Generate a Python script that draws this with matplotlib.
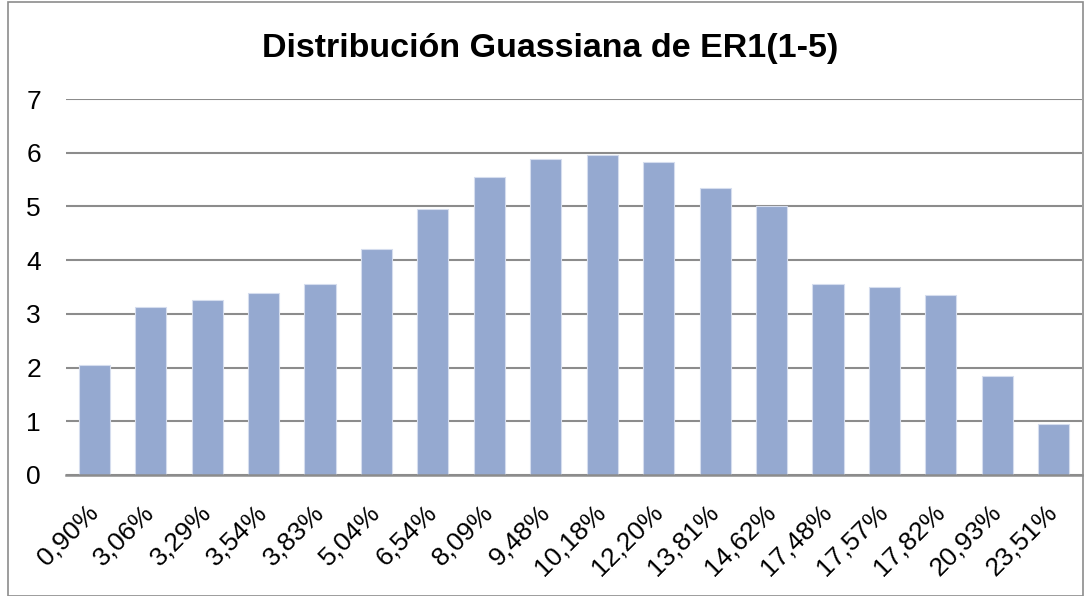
import matplotlib
matplotlib.use("Agg")
import matplotlib.pyplot as plt
from matplotlib.patches import Rectangle
import matplotlib.transforms as mtransforms

categories = ["0,90%", "3,06%", "3,29%", "3,54%", "3,83%", "5,04%", "6,54%", "8,09%", "9,48%",
              "10,18%", "12,20%", "13,81%", "14,62%", "17,48%", "17,57%", "17,82%", "20,93%", "23,51%"]
values = [2.05, 3.13, 3.25, 3.39, 3.55, 4.20, 4.95, 5.55, 5.88,
          5.96, 5.82, 5.35, 5.01, 3.55, 3.50, 3.36, 1.84, 0.95]
yticks = [0, 1, 2, 3, 4, 5, 6, 7]
title = "Distribución Guassiana de ER1(1-5)"

plt.rcParams['font.family'] = ['Liberation Sans', 'DejaVu Sans']

fig = plt.figure(figsize=(10.91, 5.96), dpi=100)
ax = fig.add_axes([66/1091, 1-475/596, (1082-66)/1091, (475-99)/596])

x = list(range(len(categories)))
ax.bar(x, values, width=0.55, color="#95A9D0", edgecolor="#D5DDEE", linewidth=0.8, zorder=3)
ax.set_xlim(-0.5, len(categories)-0.5)
ax.set_ylim(0, 7)
ax.set_yticks(yticks)
ax.set_yticklabels([str(t) for t in yticks], fontsize=19)
ax.set_xticks(x)
ax.set_xticklabels(categories, rotation=45, ha='right', va='center', rotation_mode='anchor', fontsize=19)
offset = mtransforms.ScaledTranslation(-1/100, 0, fig.dpi_scale_trans)
for lab in ax.get_xticklabels():
    lab.set_transform(lab.get_transform() + offset)
ax.tick_params(axis='both', length=0)
ax.tick_params(axis='y', pad=18)
ax.tick_params(axis='x', pad=24)
ax.yaxis.grid(True, color="#8C8C8C", linewidth=1.5, zorder=0)
ax.set_axisbelow(True)
for s in ['top', 'right', 'left']:
    ax.spines[s].set_visible(False)
ax.spines['bottom'].set_color("#8C8C8C")
ax.spines['bottom'].set_linewidth(1.8)
ax.spines['bottom'].set_zorder(4)

fig.text(550/1091, 1-48/596, title, ha='center', va='center', fontsize=24.5, fontweight='bold')

fig.patches.append(Rectangle((8/1091, 0), (1091-16)/1091, 1-2/596, transform=fig.transFigure,
                             fill=False, edgecolor="#8C8C8C", linewidth=1.2))

fig.savefig("out.png", dpi=100)
